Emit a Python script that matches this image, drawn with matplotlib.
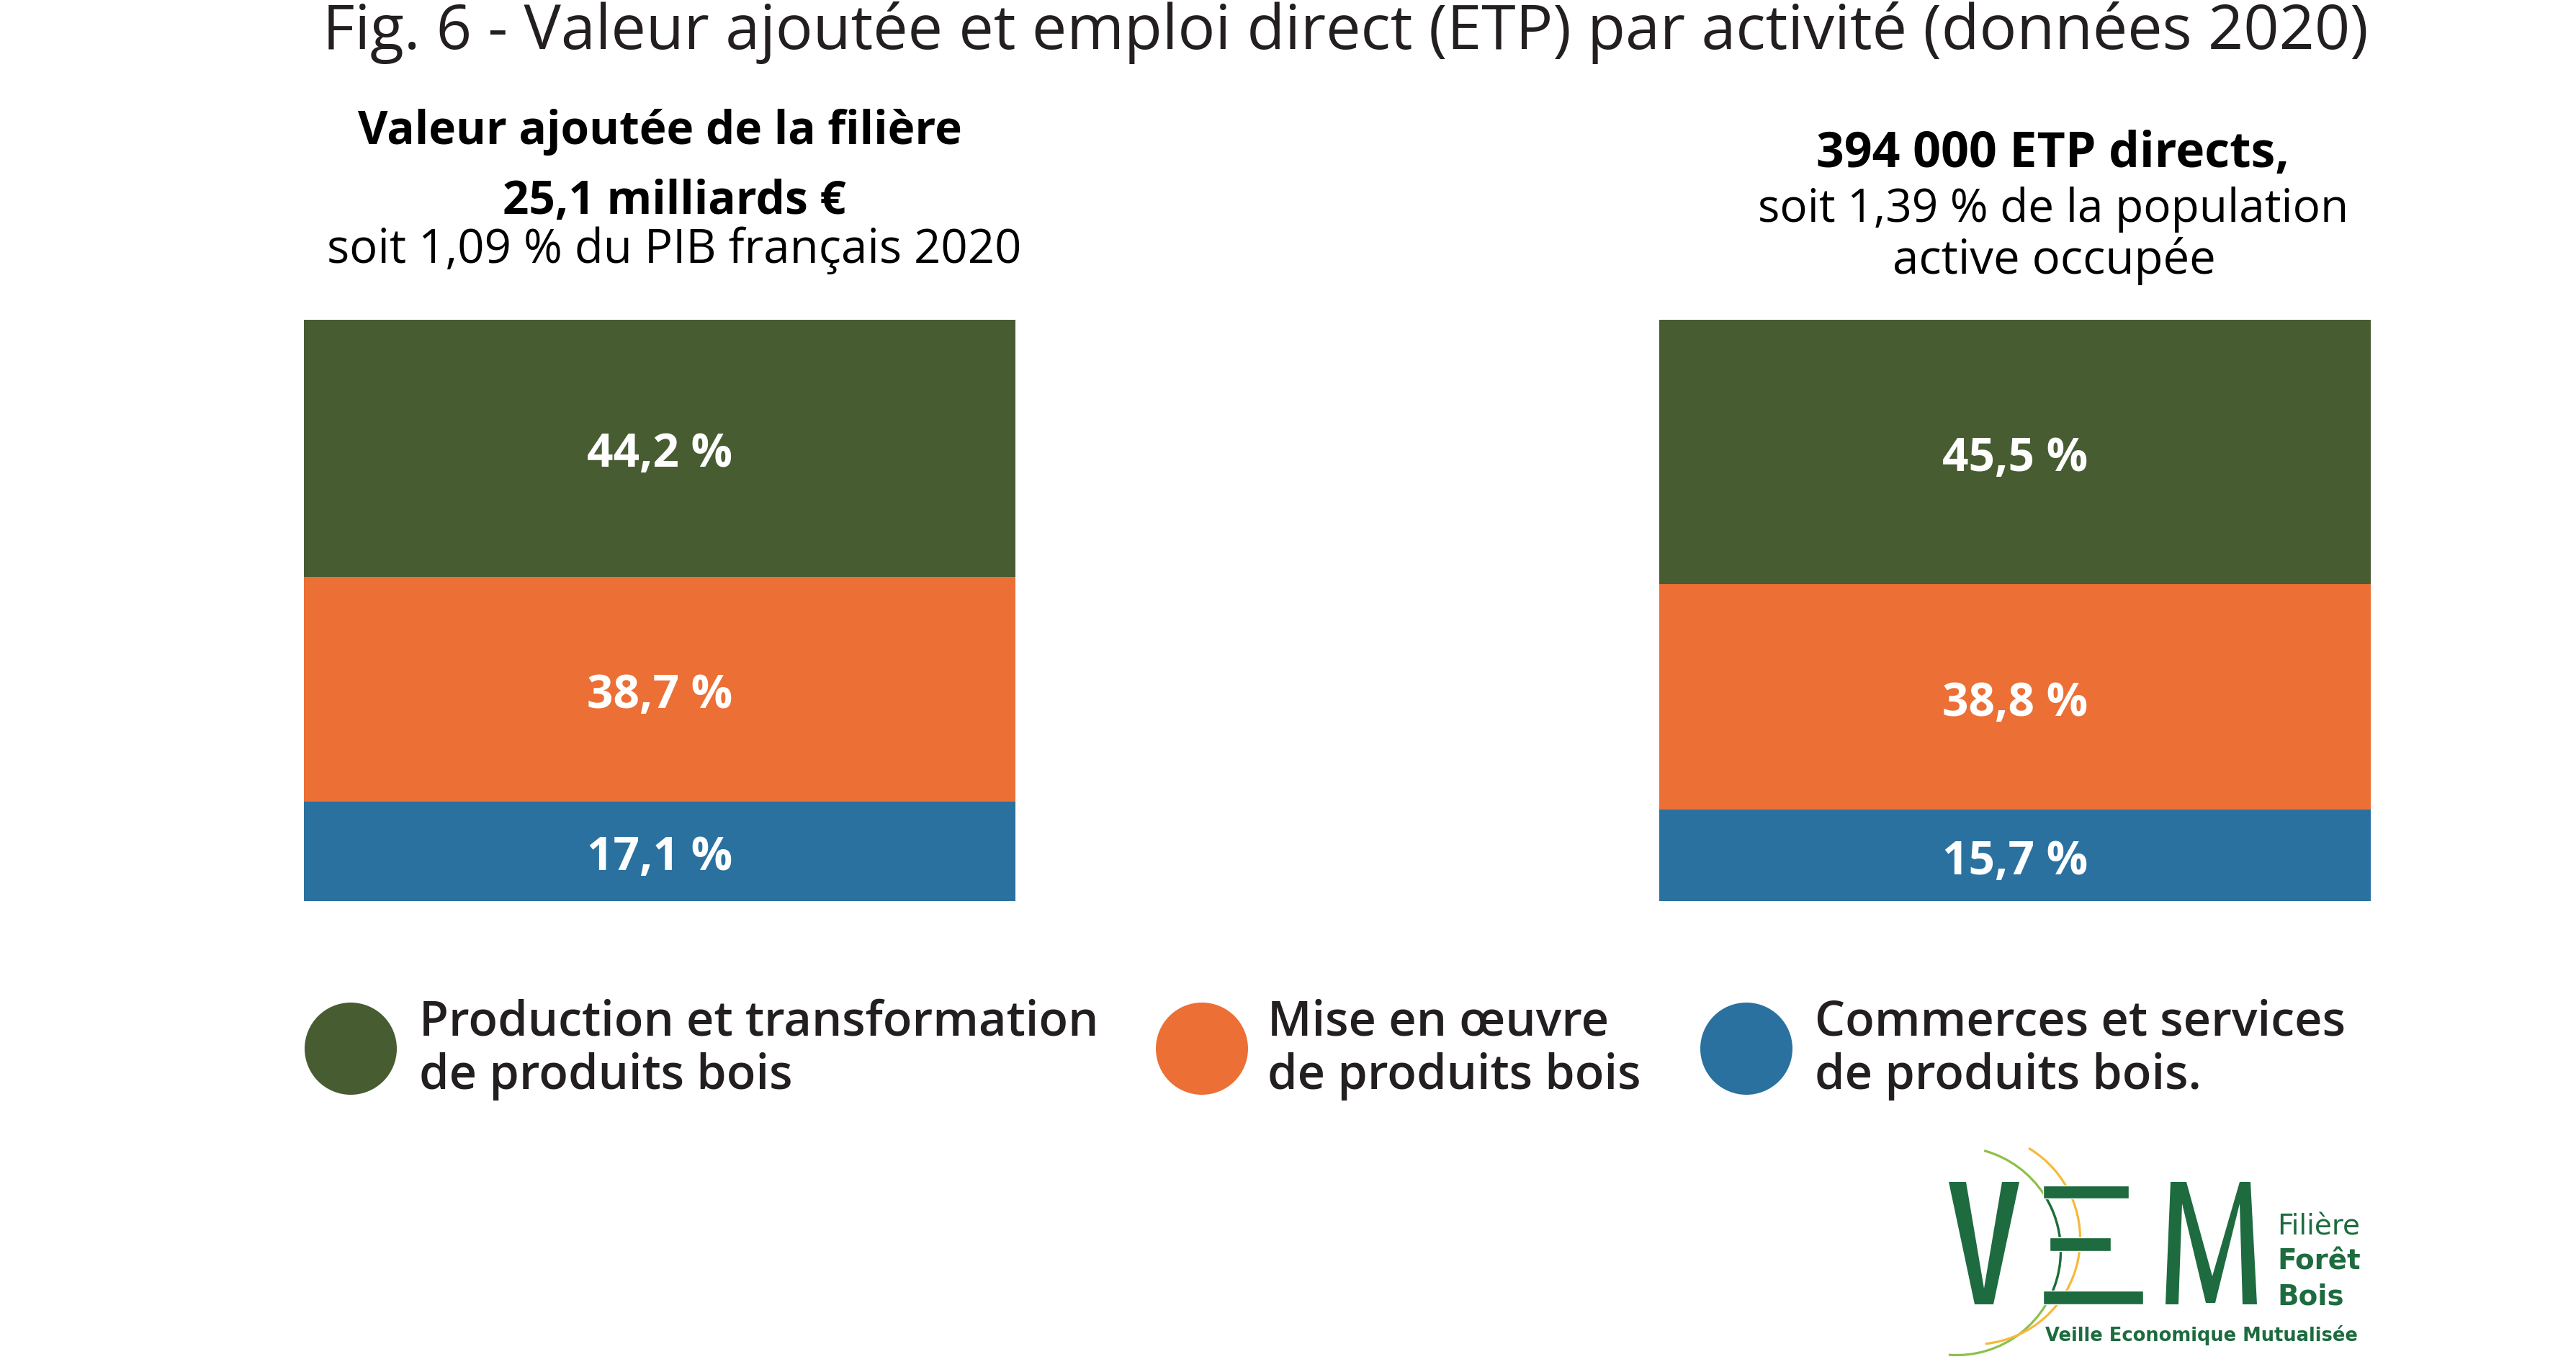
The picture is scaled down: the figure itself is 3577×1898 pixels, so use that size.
import numpy as np
import matplotlib
matplotlib.use('Agg')
import matplotlib.pyplot as plt
from matplotlib.patches import Polygon, Rectangle, Arc, Circle

plt.rcParams['font.family'] = ['Open Sans', 'DejaVu Sans']

# data
categories = ['Production et transformation\nde produits bois',
              'Mise en \u0153uvre\nde produits bois',
              'Commerces et services\nde produits bois.']
colors = ['#485C32', '#EC6F35', '#2A71A0']
va_share = [44.2, 38.7, 17.1]      # valeur ajoutee (%)
etp_share = [45.5, 38.8, 15.7]     # emploi direct ETP (%)
va_labels = ['44,2 %', '38,7 %', '17,1 %']
etp_labels = ['45,5 %', '38,8 %', '15,7 %']

title = 'Fig. 6 - Valeur ajout\u00e9e et emploi direct (ETP) par activit\u00e9 (donn\u00e9es 2020)'
left_head = ['Valeur ajout\u00e9e de la fili\u00e8re', '25,1 milliards \u20ac',
             'soit 1,09 % du PIB fran\u00e7ais 2020']
right_head = ['394 000 ETP directs,', 'soit 1,39 % de la population',
              'active occup\u00e9e']

W, H = 3577, 1899
fig = plt.figure(figsize=(W / 100, H / 100), dpi=100)
fig.patch.set_facecolor('white')

# overlay in pixel coords for texts / legend / logo
ov = fig.add_axes([0, 0, 1, 1], zorder=5)
ov.set_xlim(0, W)
ov.set_ylim(H, 0)
ov.axis('off')
ov.patch.set_alpha(0)


def stacked(rect, shares, labels):
    ax = fig.add_axes(rect)
    # stack from the top: first category on top
    top = 100.0
    for s, c, lab in zip(shares, colors, labels):
        bottom = top - s
        ax.bar(0, s, bottom=bottom, width=1.0, color=c, edgecolor='none')
        ax.annotate(lab, (0, bottom + s / 2), xytext=(0, -25), textcoords='offset pixels',
                    ha='center', va='baseline', color='white',
                    fontsize=46, fontweight='bold')
        top = bottom
    ax.set_xlim(-0.5, 0.5)
    ax.set_ylim(0, 100)
    ax.axis('off')
    return ax


bt, bb = 445, 1252
stacked([422 / W, 1 - bb / H, (1410 - 422) / W, (bb - bt) / H], va_share, va_labels)
stacked([2304 / W, 1 - bb / H, (3292 - 2304) / W, (bb - bt) / H], etp_share, etp_labels)

txtc = '#231F20'
ov.text(1868, 68, title, ha='center', va='baseline', fontsize=62, color=txtc)

ov.text(916, 200, left_head[0], ha='center', va='baseline', fontsize=46, fontweight='bold', color='black')
ov.text(936, 297, left_head[1], ha='center', va='baseline', fontsize=46, fontweight='bold', color='black')
ov.text(936, 365, left_head[2], ha='center', va='baseline', fontsize=47, color='black')

ov.text(2851, 232, right_head[0], ha='center', va='baseline', fontsize=49, fontweight='bold', color='black')
ov.text(2851, 308, right_head[1], ha='center', va='baseline', fontsize=46, color='black')
ov.text(2852, 380, right_head[2], ha='center', va='baseline', fontsize=47, color='black')

# legend
leg_cx = [487, 1669, 2425]
leg_tx = [582, 1760, 2520]
for cx, tx, lab, c in zip(leg_cx, leg_tx, categories, colors):
    ov.add_patch(Circle((cx, 1457), 64, color=c, ec='none'))
    l1, l2 = lab.split('\n')
    ov.text(tx, 1437, l1, ha='left', va='baseline', fontsize=48, fontweight='semibold', color=txtc)
    ov.text(tx, 1512, l2, ha='left', va='baseline', fontsize=48, fontweight='semibold', color=txtc)

# logo
dg = '#1D6B3F'
lg = '#8DC04A'
yl = '#F6B93B'
ov.add_patch(Arc((2717, 1738), 289, 289, theta1=-74.7, theta2=94.4, color=lg, lw=2.3))
ov.add_patch(Arc((2742, 1721), 293, 293, theta1=-59.2, theta2=84.2, color=yl, lw=2.3))
ov.add_patch(Arc((2717, 1738), 289, 289, theta1=-30.1, theta2=22.7, color=dg, lw=2.3))
v_pts = [(2706, 1642), (2730, 1642), (2755, 1790), (2780, 1642), (2804, 1642),
         (2768, 1812), (2742, 1812)]
ov.add_patch(Polygon(v_pts, closed=True, color=dg, ec='none'))
for x0, x1, y0, y1 in [(2837, 2956, 1647, 1665), (2846, 2931, 1719, 1738), (2837, 2976, 1793, 1812)]:
    ov.add_patch(Rectangle((x0, y0), x1 - x0, y1 - y0, fc=dg, ec='white', lw=1))
m_pts = [(3007, 1812), (3014, 1642), (3036, 1642), (3072, 1773), (3110, 1642), (3125, 1642),
         (3134, 1812), (3114, 1812), (3110, 1672), (3076, 1810), (3063, 1810), (3030, 1672),
         (3025, 1812)]
ov.add_patch(Polygon(m_pts, closed=True, color=dg, ec='none'))
narrow = ['Liberation Sans Narrow', 'DejaVu Sans']
ov.text(3162, 1715, 'Fili\u00e8re', ha='left', va='baseline', fontsize=28, color=dg, family=narrow)
ov.text(3162, 1763, 'For\u00eat', ha='left', va='baseline', fontsize=28, fontweight='bold', color=dg, family=narrow)
ov.text(3162, 1812, 'Bois', ha='left', va='baseline', fontsize=28, fontweight='bold', color=dg, family=narrow)
ov.text(2840, 1862, 'Veille Economique Mutualis\u00e9e', ha='left', va='baseline', fontsize=18.5,
        fontweight='bold', color=dg, family=narrow)

fig.savefig('out.png', dpi=100, facecolor='white')
